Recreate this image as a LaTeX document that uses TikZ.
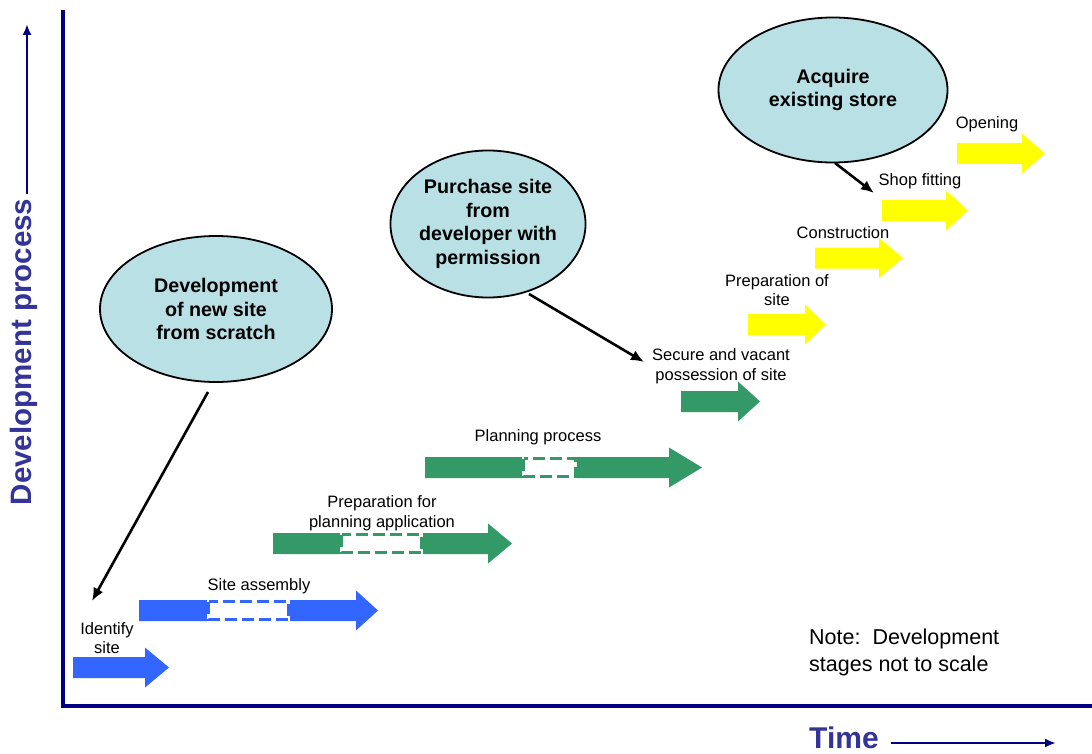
\documentclass[tikz,border=0pt]{standalone}
\usepackage{fontspec}
\setmainfont{Liberation Sans}
\usetikzlibrary{arrows.meta,shapes.geometric}
\definecolor{axisblue}{RGB}{0,0,128}
\definecolor{labelblue}{RGB}{51,51,153}
\definecolor{barblue}{RGB}{51,102,255}
\definecolor{bargreen}{RGB}{51,153,102}
\definecolor{baryellow}{RGB}{255,255,0}
\definecolor{bubble}{RGB}{185,224,228}
\newcommand\blockarrow[5]{%
  \fill[#1] (#2,#5-10.5) -- (#3,#5-10.5) -- (#3,#5-20) -- (#4,#5) -- (#3,#5+20) -- (#3,#5+10.5) -- (#2,#5+10.5) -- cycle;}
\newcommand\dashgap[4]{%
  \fill[white] (#2,#4-11) rectangle (#3,#4+11);
  \draw[#1,line width=3pt,dash pattern=on 12pt off 5pt] (#2+1.5,#4-9) rectangle (#3-1.5,#4+9);}
\tikzset{
  lbl/.style={font=\fontsize{16.5}{19.5}\selectfont, align=center, inner sep=0pt},
  bubblenode/.style={ellipse, draw=black, line width=1.8pt, fill=bubble, inner sep=0pt,
     align=center, font=\fontsize{19.7}{23.5}\selectfont\bfseries},
  conn/.style={draw=black, line width=2.6pt, -{Latex[length=13pt,width=11pt]}},
  axis/.style={draw=axisblue, line width=3.5pt},
  axisarrow/.style={draw=axisblue, line width=2.2pt, -{Latex[length=11pt,width=9pt]}},
  axislabel/.style={text=labelblue, font=\fontsize{29.5}{32}\selectfont\bfseries, inner sep=0pt}
}
\begin{document}
\begin{tikzpicture}[x=1pt,y=-1pt]
\useasboundingbox (0,0) rectangle (1092,754);
% axes
\draw[axis] (63,10) -- (63,706) -- (1092,706);
\node[axislabel, rotate=90] (ylab) at (24,352) {Development process};
\coordinate (yarr) at (27,24);
\draw[axisarrow, shorten <=5pt] (ylab.east -| yarr) -- (yarr);
\node[axislabel, anchor=base west, font=\fontsize{30}{32}\selectfont\bfseries] (tlab) at (809,748.5) {Time};
\coordinate (tarr) at (1056,743);
\draw[axisarrow, shorten <=12pt] (tlab.east |- tarr) -- (tarr);

% blue arrows
\blockarrow{barblue}{73}{145}{169}{667.5}
\blockarrow{barblue}{139}{356}{378}{610.5}
\dashgap{barblue}{207}{290}{610.5}
% green arrows
\blockarrow{bargreen}{273}{488}{512}{543.5}
\dashgap{bargreen}{340}{423}{543.5}
\blockarrow{bargreen}{425}{669}{702}{467.5}
\dashgap{bargreen}{522}{577}{467.5}
\blockarrow{bargreen}{681}{738}{760}{401.5}
% yellow arrows
\blockarrow{baryellow}{748}{805}{826}{324.5}
\blockarrow{baryellow}{815}{879}{903}{258}
\blockarrow{baryellow}{882}{946}{968}{210.5}
\blockarrow{baryellow}{957}{1022}{1045}{153.5}

% labels
\node[lbl] (l1) at (107,638) {Identify\\site};
\node[lbl] (l2) at (259,586) {Site assembly};
\node[lbl] (l3) at (382,513) {Preparation for\\planning application};
\node[lbl] (l4) at (538,437) {Planning process};
\node[lbl] (l5) at (721,366) {Secure and vacant\\possession of site};
\node[lbl] (l6) at (777,290) {Preparation of\\site};
\node[lbl] (l7) at (843,233) {Construction};
\node[lbl] (l8) at (920,181) {Shop fitting};
\node[lbl] (l9) at (987,124) {Opening};

% bubbles
\node[bubblenode, minimum width=232pt, minimum height=146pt] (e1) at (216,309) {Development\\of new site\\from scratch};
\node[bubblenode, minimum width=186pt, minimum height=147pt] (e2) at (488,224) {Purchase site\\from\\developer with\\permission};
\node[bubblenode, minimum width=229pt, minimum height=145pt] (e3) at (833,90) {Acquire\\existing store};

% connectors
\coordinate (s1) at (208,392);
\coordinate (t1) at (92,601);
\coordinate (s2) at (529,294);
\coordinate (t2) at (644,362);
\coordinate (s3) at (835,163);
\coordinate (t3) at (874,193);
\draw[conn] (s1) -- (t1);
\draw[conn] (s2) -- (t2);
\draw[conn] (s3) -- (t3);

% note
\node[font=\fontsize{21.5}{26.5}\selectfont, align=left, anchor=north west, inner sep=0pt] (note) at (809,629) {Note:\ \ Development\\stages not to scale};
\end{tikzpicture}
\end{document}
